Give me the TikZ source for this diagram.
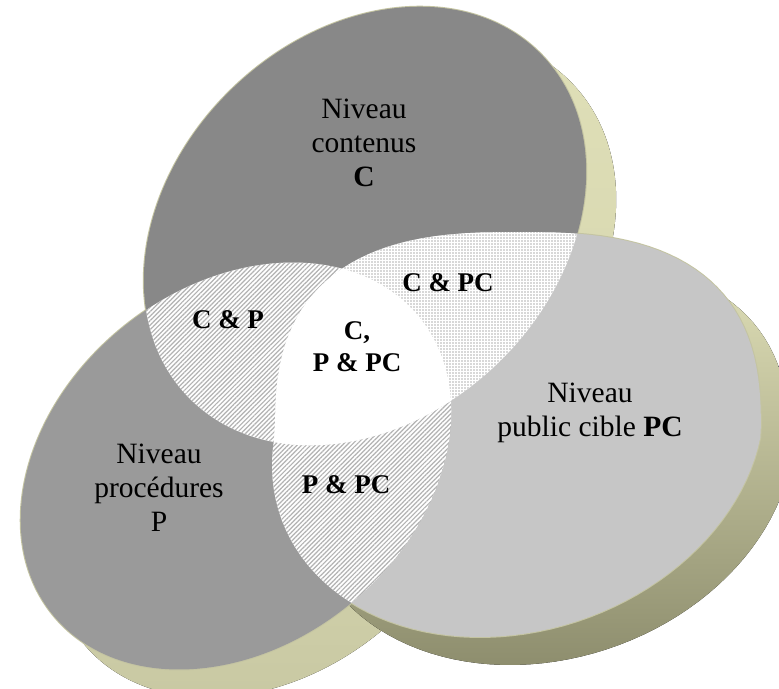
\documentclass[tikz,border=0pt]{standalone}
\usepackage{fontspec}
\setmainfont{Liberation Serif}
\usetikzlibrary{patterns.meta}
\definecolor{khaki}{HTML}{E0E0B8}
\definecolor{khakidark}{HTML}{8E8E6E}
\definecolor{rimcol}{HTML}{C4C4A2}
\definecolor{greyC}{HTML}{888888}
\definecolor{greyP}{HTML}{9A9A9A}
\definecolor{greyPC}{HTML}{C6C6C6}
\newcommand{\ovalC}{(365,226) ellipse [x radius=246, y radius=191, rotate=44]}
\newcommand{\ovalP}{(236,466) ellipse [x radius=236, y radius=179, rotate=39]}
% PC: skewed half ellipse below, squarish half above
\newcommand{\ovalPC}{plot[domain=1:179,samples=60,variable=\t]
  ({518+243*cos(\t)-38*sin(\t)},{434+203*sin(\t)})
  -- plot[domain=181:359,samples=60,variable=\t]
  ({518+243*cos(\t)*exp(-0.26*ln(abs(cos(\t))))},{434+202*sin(\t)*exp(-0.26*ln(abs(sin(\t))))}) -- cycle}

\begin{document}
\begin{tikzpicture}[x=1pt,y=-1pt,every text node part/.style={align=center},
  side/.style={shift={(30,28)}},
  rim/.style={draw=rimcol, line width=2pt},
  level/.style={font=\fontsize{29.5}{34}\selectfont},
  inter/.style={font=\fontsize{27}{32}\selectfont\bfseries},
  lines/.style={pattern={Lines[angle=45,distance=3.2pt,line width=1.2pt]}, pattern color=gray!60},
  dotty/.style={pattern={Dots[distance=3pt,radius=0.8pt]}, pattern color=gray!60}]
\useasboundingbox (0,0) rectangle (779,688);
\fill[side, top color=khaki, bottom color=khaki!85!khakidark] \ovalC;
\fill[side, top color=khaki, bottom color=khaki!70!khakidark] \ovalP;
\fill[side, top color=khaki, bottom color=khakidark] \ovalPC;
\draw[rim] \ovalC; \draw[rim] \ovalP; \draw[rim] \ovalPC;
\fill[greyC] \ovalC;
\fill[greyP] \ovalP;
\fill[greyPC] \ovalPC;
\begin{scope}
  \clip \ovalC; \clip \ovalP;
  \fill[white] \ovalP; \fill[lines] \ovalP;
\end{scope}
\begin{scope}
  \clip \ovalP; \clip \ovalPC;
  \fill[white] \ovalP; \fill[lines] \ovalP;
\end{scope}
\begin{scope}
  \clip \ovalC; \clip \ovalPC;
  \fill[white] \ovalPC; \fill[dotty] \ovalPC;
\end{scope}
\begin{scope}
  \clip \ovalC; \clip \ovalP;
  \fill[white] \ovalPC;
\end{scope}
\node[level] (niveauC) at (364,143) {Niveau\\contenus\\\textbf{C}};
\node[level] (niveauP) at (159,488) {Niveau\\procédures\\P};
\node[level] (niveauPC) at (590,413) {Niveau\\public cible \textbf{PC}};
\node[inter] (cp) at (228,320) {C \& P};
\node[inter] (cpc) at (448,283) {C \& PC};
\node[inter] (cppc) at (357,347) {C,\\P \& PC};
\node[inter] (ppc) at (346,485) {P \& PC};
\end{tikzpicture}
\end{document}
